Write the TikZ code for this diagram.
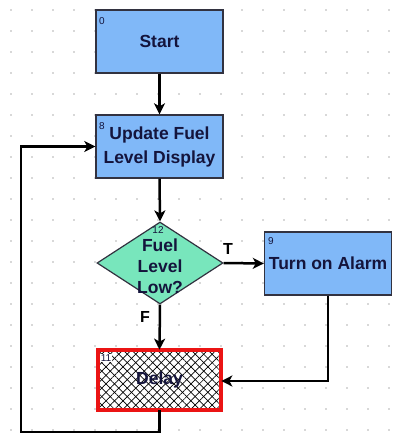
\documentclass[tikz,border=0pt]{standalone}
\usepackage{fontspec}
\setmainfont{Liberation Sans}
\usetikzlibrary{arrows.meta,shapes.geometric,patterns.meta}
\definecolor{boxblue}{RGB}{128,184,248}
\definecolor{diagreen}{RGB}{120,230,188}
\definecolor{txt}{RGB}{20,20,60}
\definecolor{edgegray}{RGB}{50,50,64}
\definecolor{hatchred}{RGB}{235,20,20}
\begin{document}
\begin{tikzpicture}[x=1pt,y=-1pt,
  stepbox/.style={rectangle, draw=edgegray, line width=1.4pt, fill=boxblue,
    minimum width=127pt, minimum height=63pt, inner sep=0pt,
    font=\fontsize{17.5}{24}\selectfont\bfseries, text=txt, align=center},
  decbox/.style={diamond, draw=edgegray, line width=1.2pt, fill=diagreen,
    minimum width=126pt, minimum height=82pt, inner sep=0pt},
  labeltxt/.style={font=\fontsize{17.5}{21}\selectfont\bfseries, text=txt, align=center, inner sep=0pt},
  numtxt/.style={font=\fontsize{10}{10}\selectfont, text=txt, inner sep=0pt},
  flow/.style={line width=2.5pt, -{Stealth[length=11pt,width=11pt,inset=3pt]}},
  branchlbl/.style={font=\fontsize{16}{16}\selectfont\bfseries, text=black, inner sep=0pt}
]
\useasboundingbox (0,0) rectangle (393,439);
\fill[white] (0,0) rectangle (393,439);
% dotted grid
\foreach \gx in {11,32,...,393}{
  \foreach \gy in {10,31,...,439}{
    \fill[black!65] (\gx,\gy) circle (0.6pt);
  }
}
% nodes
\node[stepbox] (start) at (159.5,41.5) {Start};
\node[stepbox] (update) at (159.5,146.5) {Update Fuel\\Level Display};
\node[decbox] (dia) at (160,263) {};
\node[labeltxt] (diatxt) at (160,266) {Fuel\\Level\\Low?};
\node[stepbox] (alarm) at (328,263.5) {Turn on Alarm};
\node[rectangle, minimum width=123pt, minimum height=60pt, inner sep=0pt,
  preaction={fill=white},
  pattern={Lines[angle=45,distance=6pt,line width=0.7pt]},
  postaction={pattern={Lines[angle=-45,distance=6pt,line width=0.7pt]}},
  postaction={draw=hatchred,line width=4pt},
  font=\fontsize{17.5}{21}\selectfont\bfseries, text=txt] (delay) at (159.5,380) {Delay};
% numbers
\node[numtxt] (n0) at (102,21) {0};
\node[numtxt] (n8) at (102,126) {8};
\node[numtxt] (n12) at (158,230) {12};
\node[numtxt] (n9) at (271,241) {9};
\node[numtxt,fill=white,inner sep=0.5pt] (n11) at (106,358) {11};
% branch labels
\node[branchlbl] (tl) at (228,249) {T};
\node[branchlbl] (fl) at (145,317) {F};
% connectors
\coordinate (lb) at (21,432);
\draw[flow] (start.south) -- (update.north);
\draw[flow] (update.south) -- (dia.north);
\draw[flow] (dia.east) -- (alarm.west);
\draw[flow] (dia.south) -- (delay.north);
\draw[flow] (alarm.south) |- ([yshift=-1pt]delay.east);
\draw[flow] (delay.south) |- (lb) |- (update.west);
\end{tikzpicture}
\end{document}
